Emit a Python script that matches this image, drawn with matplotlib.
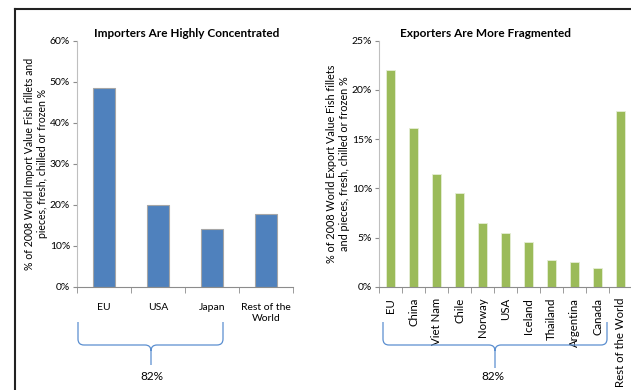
import numpy as np
import matplotlib.pyplot as plt
from matplotlib.path import Path
from matplotlib.patches import PathPatch
from matplotlib.lines import Line2D
from matplotlib.ticker import FuncFormatter

plt.rcParams['font.family'] = ['Lato', 'DejaVu Sans']

# import shares (% of 2008 world import value)
importers = ['EU', 'USA', 'Japan', 'Rest of the\nWorld']
import_share = [48.5, 20.0, 14.1, 17.8]

# export shares (% of 2008 world export value)
exporters = ['EU', 'China', 'Viet Nam', 'Chile', 'Norway', 'USA', 'Iceland',
             'Thailand', 'Argentina', 'Canada', 'Rest of the World']
export_share = [22.0, 16.1, 11.5, 9.55, 6.45, 5.5, 4.55, 2.7, 2.55, 1.9, 17.85]

W, H = 631, 390
fig = plt.figure(figsize=(W / 100, H / 100), dpi=100)


def fx(px):
    return px / W


def fy(py):
    return 1 - py / H


def style_axes(ax):
    for s in ['top', 'right']:
        ax.spines[s].set_visible(False)
    ax.spines['left'].set_color('#bfbfbf')
    ax.spines['bottom'].set_color('#8c8c8c')
    ax.tick_params(axis='y', length=3, color='#8c8c8c', labelsize=7.5, pad=2)
    ax.tick_params(axis='x', which='major', length=0, labelsize=7.5)
    ax.tick_params(axis='x', which='minor', length=4, color='#8c8c8c')
    ax.yaxis.set_major_formatter(FuncFormatter(lambda v, _: f'{v:.0f}%'))


def brace(x0, x1, xc, ytop, ymid, ytip, r=6):
    verts = [(x0, ytop), (x0, ymid - r), (x0, ymid), (x0 + r, ymid),
             (xc - r, ymid), (xc, ymid), (xc, ymid + r), (xc, ytip),
             (xc, ymid + r), (xc, ymid), (xc + r, ymid),
             (x1 - r, ymid), (x1, ymid), (x1, ymid - r), (x1, ytop)]
    codes = [Path.MOVETO, Path.LINETO, Path.CURVE3, Path.CURVE3,
             Path.LINETO, Path.CURVE3, Path.CURVE3, Path.LINETO,
             Path.MOVETO, Path.CURVE3, Path.CURVE3,
             Path.LINETO, Path.CURVE3, Path.CURVE3, Path.LINETO]
    verts = [(fx(a), fy(b)) for a, b in verts]
    fig.patches.append(PathPatch(Path(verts, codes), transform=fig.transFigure,
                                 fill=False, edgecolor='#5b8fd0', lw=0.9))


# left panel: importers
ax1 = fig.add_axes([fx(77), fy(286.7), fx(216), 246 / H])
x1 = np.arange(len(importers))
ax1.bar(x1, import_share, width=0.4, color='#4f81bd', edgecolor='#a6a6a6', lw=0.8)
ax1.set_xlim(-0.5, len(importers) - 0.5)
ax1.set_ylim(0, 60)
ax1.set_yticks(np.arange(0, 61, 10))
ax1.set_xticks(x1)
ax1.set_xticklabels(importers)
ax1.set_xticks(np.arange(-0.5, len(importers)), minor=True)
style_axes(ax1)
ax1.tick_params(axis='x', which='major', pad=12)
ax1.set_ylabel('% of 2008 World Import Value Fish fillets and\npieces, fresh, chilled or frozen %',
               fontsize=7.6, labelpad=1, linespacing=1.25)
ax1.set_title('Importers Are Highly Concentrated', fontsize=8.5, fontweight='bold', pad=3)
ax1.title.set_position((fx(187 - 77) / fx(216), 1))

# right panel: exporters
ax2 = fig.add_axes([fx(379), fy(286.7), fx(253), 246 / H])
x2 = np.arange(len(exporters))
ax2.bar(x2, export_share, width=0.38, color='#9bbb59', edgecolor='#e6eed5', lw=0.6)
ax2.set_xlim(-0.5, len(exporters) - 0.5)
ax2.set_ylim(0, 25)
ax2.set_yticks(np.arange(0, 26, 5))
ax2.set_xticks(x2)
ax2.set_xticklabels(exporters, rotation=90, va='top')
ax2.set_xticks(np.arange(-0.5, len(exporters)), minor=True)
style_axes(ax2)
ax2.tick_params(axis='x', which='major', pad=8, labelsize=8.2)
ax2.set_ylabel('% of 2008 World Export Value Fish fillets\nand pieces, fresh, chilled or frozen %',
               fontsize=7.8, labelpad=1, linespacing=1.25)
ax2.set_title('Exporters Are More Fragmented', fontsize=8.5, fontweight='bold', pad=3)
ax2.title.set_position((fx(486 - 379) / fx(253), 1))

# braces grouping the listed countries
brace(78, 223, 151, 322, 345, 365)
brace(383, 607, 495, 322, 345, 368)
fig.text(fx(152), fy(377), '82%', ha='center', va='center', fontsize=8.5)
fig.text(fx(493), fy(377), '82%', ha='center', va='center', fontsize=8.5)

# outer frame
fig.add_artist(Line2D([fx(15), fx(15)], [fy(9), 0], transform=fig.transFigure,
                      color='#222222', lw=1.5))
fig.add_artist(Line2D([fx(15), 1], [fy(9), fy(9)], transform=fig.transFigure,
                      color='#222222', lw=1.5))

fig.savefig('out.png', dpi=100)
